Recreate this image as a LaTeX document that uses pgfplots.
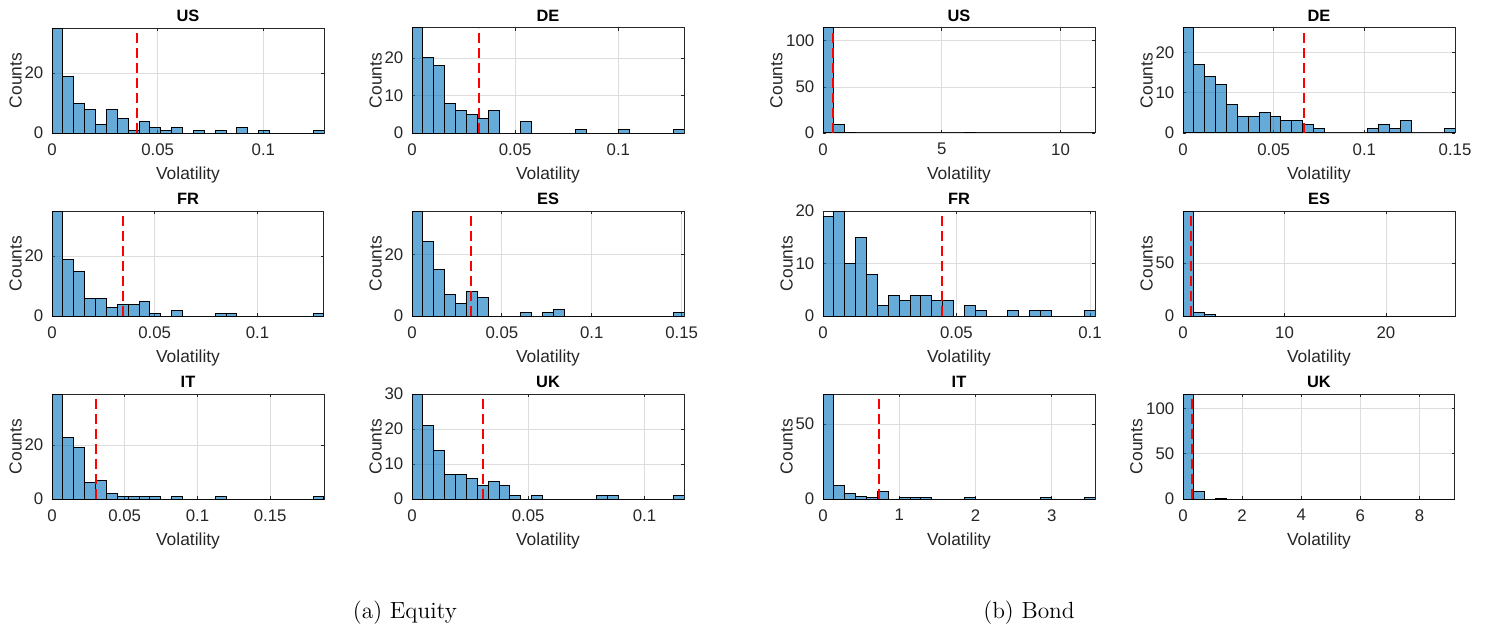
\documentclass[border=0pt]{standalone}
\usepackage{fontspec}
\usepackage{pgfplots}
\pgfplotsset{compat=1.18}
\newfontfamily\arial{Liberation Sans}
\definecolor{mblue}{rgb}{0,0.447,0.741}
\definecolor{axgray}{rgb}{0.15,0.15,0.15}
\definecolor{gridgray}{rgb}{0.87,0.87,0.87}
\newcommand{\lab}{\arial\fontsize{8.4}{10}\selectfont}
\newcommand{\xlab}{\arial\fontsize{8.7}{10}\selectfont}
\newcommand{\ttl}{\arial\bfseries\fontsize{8.2}{10}\selectfont}
\pgfplotsset{
  hist/.style={
    scale only axis, width=136pt, height=52.5pt, anchor=south west,
    xmin=0, ymin=0,
    axis line style={draw=axgray, line width=0.5pt},
    every tick/.style={axgray, line width=0.4pt},
    major tick length=1.4pt,
    tick align=inside,
    grid=major, major grid style={gridgray, line width=0.4pt},
    tick label style={font=\lab, text=axgray},
    /pgf/number format/assume math mode=true,
    scaled ticks=false,
    xticklabel style={/pgf/number format/fixed, /pgf/number format/precision=2, inner sep=0pt, anchor=north, yshift=-5pt},
    yticklabel style={inner sep=0pt, anchor=east, xshift=-4.2pt},
    xlabel=Volatility, ylabel=Counts,
    every axis x label/.style={at={(axis description cs:0.5,-0.318)}, anchor=north, inner sep=0pt, font=\xlab, text=axgray},
    every axis y label/.style={at={(axis description cs:-0.110,0.5)}, rotate=90, anchor=south, inner sep=0pt, font=\xlab, text=axgray},
    every axis title/.style={at={(axis description cs:0.5,1)}, anchor=south, inner sep=0pt, yshift=3.2pt, font=\ttl},
  },
  bars/.style={ybar interval, fill=mblue, fill opacity=0.6, draw=black, draw opacity=1, line width=0.5pt},
  vline/.style={red, line width=1pt, dash pattern=on 5pt off 2.5pt},
}
\begin{document}
\begin{tikzpicture}
\path[use as bounding box] (0,0) rectangle (744.5pt,314pt);
% ---------- Equity US
\begin{axis}[hist, at={(26pt,247.5pt)}, xmax=0.1287, ymax=35, xtick={0,0.05,0.1}, ytick={0,20}, title={US}]
\addplot[bars] coordinates {(0,35) (0.00515,19) (0.0103,10) (0.01544,8) (0.02059,3) (0.02574,8) (0.03089,5) (0.03604,1) (0.04118,4) (0.04633,2) (0.05148,1) (0.05663,2) (0.06178,0) (0.06692,1) (0.07207,0) (0.07722,1) (0.08237,0) (0.08752,2) (0.09266,0) (0.09781,1) (0.10296,0) (0.10811,0) (0.11326,0) (0.1184,0) (0.12355,1) (0.1287,0)};
\addplot[vline] coordinates {(0.0402,0) (0.0402,35)};
\end{axis}
% ---------- Equity DE
\begin{axis}[hist, at={(206pt,247.5pt)}, xmax=0.1318, ymax=28, xtick={0,0.05,0.1}, ytick={0,10,20}, title={DE}]
\addplot[bars] coordinates {(0,28) (0.00527,20) (0.01054,18) (0.01582,8) (0.02109,6) (0.02636,5) (0.03163,4) (0.0369,6) (0.04218,0) (0.04745,0) (0.05272,3) (0.05799,0) (0.06326,0) (0.06854,0) (0.07381,0) (0.07908,1) (0.08435,0) (0.08962,0) (0.0949,0) (0.10017,1) (0.10544,0) (0.11071,0) (0.11598,0) (0.12126,0) (0.12653,1) (0.1318,0)};
\addplot[vline] coordinates {(0.0327,0) (0.0327,28)};
\end{axis}
% ---------- Bond US
\begin{axis}[hist, at={(411.5pt,247.5pt)}, xmax=11.45, ymax=114, xtick={0,5,10}, ytick={0,50,100}, title={US},
  every axis y label/.append style={at={(axis description cs:-0.147,0.5)}}]
\addplot[bars] coordinates {(0,114) (0.458,9) (0.916,1) (1.374,0) (1.832,0) (2.29,0) (2.748,0) (3.206,0) (3.664,0) (4.122,0) (4.58,0) (5.038,0) (5.496,0) (5.954,1) (6.412,0) (6.87,0) (7.328,0) (7.786,0) (8.244,0) (8.702,0) (9.16,0) (9.618,0) (10.076,0) (10.534,0) (10.992,0) (11.45,0)};
\addplot[vline] coordinates {(0.42,0) (0.42,114)};
\end{axis}
% ---------- Bond DE
\begin{axis}[hist, at={(591.5pt,247.5pt)}, xmax=0.15, ymax=26, xtick={0,0.05,0.1,0.15}, ytick={0,10,20}, title={DE}]
\addplot[bars] coordinates {(0,26) (0.006,17) (0.012,14) (0.018,12) (0.024,7) (0.03,4) (0.036,4) (0.042,5) (0.048,4) (0.054,3) (0.06,3) (0.066,2) (0.072,1) (0.078,0) (0.084,0) (0.09,0) (0.096,0) (0.102,1) (0.108,2) (0.114,1) (0.12,3) (0.126,0) (0.132,0) (0.138,0) (0.144,1) (0.15,0)};
\addplot[vline] coordinates {(0.0668,0) (0.0668,26)};
\end{axis}
% ---------- Equity FR
\begin{axis}[hist, at={(26pt,156pt)}, xmax=0.1324, ymax=35, xtick={0,0.05,0.1}, ytick={0,20}, title={FR}]
\addplot[bars] coordinates {(0,35) (0.0053,19) (0.01059,15) (0.01589,6) (0.02118,6) (0.02648,3) (0.03178,4) (0.03707,4) (0.04237,5) (0.04766,1) (0.05296,0) (0.05826,2) (0.06355,0) (0.06885,0) (0.07414,0) (0.07944,1) (0.08474,1) (0.09003,0) (0.09533,0) (0.10062,0) (0.10592,0) (0.11122,0) (0.11651,0) (0.12181,0) (0.1271,1) (0.1324,0)};
\addplot[vline] coordinates {(0.0345,0) (0.0345,35)};
\end{axis}
% ---------- Equity ES
\begin{axis}[hist, at={(206pt,156pt)}, xmax=0.1513, ymax=34, xtick={0,0.05,0.1,0.15}, ytick={0,20}, title={ES}]
\addplot[bars] coordinates {(0,34) (0.00605,24) (0.0121,15) (0.01816,7) (0.02421,4) (0.03026,8) (0.03631,6) (0.04236,0) (0.04842,0) (0.05447,0) (0.06052,1) (0.06657,0) (0.07262,1) (0.07868,2) (0.08473,0) (0.09078,0) (0.09683,0) (0.10288,0) (0.10894,0) (0.11499,0) (0.12104,0) (0.12709,0) (0.13314,0) (0.1392,0) (0.14525,1) (0.1513,0)};
\addplot[vline] coordinates {(0.0326,0) (0.0326,34)};
\end{axis}
% ---------- Bond FR
\begin{axis}[hist, at={(411.5pt,156pt)}, xmax=0.1019, ymax=20, xtick={0,0.05,0.1}, ytick={0,10,20}, title={FR}]
\addplot[bars] coordinates {(0,19) (0.00408,20) (0.00815,10) (0.01223,15) (0.0163,8) (0.02038,2) (0.02446,4) (0.02853,3) (0.03261,4) (0.03668,4) (0.04076,3) (0.04484,3) (0.04891,0) (0.05299,2) (0.05706,1) (0.06114,0) (0.06522,0) (0.06929,1) (0.07337,0) (0.07744,1) (0.08152,1) (0.0856,0) (0.08967,0) (0.09375,0) (0.09782,1) (0.1019,0)};
\addplot[vline] coordinates {(0.0445,0) (0.0445,20)};
\end{axis}
% ---------- Bond ES
\begin{axis}[hist, at={(591.5pt,156pt)}, xmax=26.8, ymax=99, xtick={0,10,20}, ytick={0,50}, title={ES}]
\addplot[bars] coordinates {(0,99) (1.072,3) (2.144,1) (3.216,0) (4.288,0) (5.36,0) (6.432,0) (7.504,0) (8.576,0) (9.648,0) (10.72,0) (11.792,0) (12.864,0) (13.936,0) (15.008,0) (16.08,0) (17.152,0) (18.224,0) (19.296,0) (20.368,0) (21.44,0) (22.512,0) (23.584,0) (24.656,0) (25.728,0) (26.8,0)};
\addplot[vline] coordinates {(0.82,0) (0.82,99)};
\end{axis}
% ---------- Equity IT
\begin{axis}[hist, at={(26pt,64.5pt)}, xmax=0.187, ymax=39, xtick={0,0.05,0.1,0.15}, ytick={0,20}, title={IT}]
\addplot[bars] coordinates {(0,39) (0.00748,23) (0.01496,19) (0.02244,6) (0.02992,7) (0.0374,2) (0.04488,1) (0.05236,1) (0.05984,1) (0.06732,1) (0.0748,0) (0.08228,1) (0.08976,0) (0.09724,0) (0.10472,0) (0.1122,1) (0.11968,0) (0.12716,0) (0.13464,0) (0.14212,0) (0.1496,0) (0.15708,0) (0.16456,0) (0.17204,0) (0.17952,1) (0.187,0)};
\addplot[vline] coordinates {(0.030,0) (0.030,39)};
\end{axis}
% ---------- Equity UK
\begin{axis}[hist, at={(206pt,64.5pt)}, xmax=0.117, ymax=30, xtick={0,0.05,0.1}, ytick={0,10,20,30}, title={UK}]
\addplot[bars] coordinates {(0,30) (0.00468,21) (0.00936,14) (0.01404,7) (0.01872,7) (0.0234,6) (0.02808,4) (0.03276,5) (0.03744,4) (0.04212,1) (0.0468,0) (0.05148,1) (0.05616,0) (0.06084,0) (0.06552,0) (0.0702,0) (0.07488,0) (0.07956,1) (0.08424,1) (0.08892,0) (0.0936,0) (0.09828,0) (0.10296,0) (0.10764,0) (0.11232,1) (0.117,0)};
\addplot[vline] coordinates {(0.0304,0) (0.0304,30)};
\end{axis}
% ---------- Bond IT
\begin{axis}[hist, at={(411.5pt,64.5pt)}, xmax=3.566, ymax=70, xtick={0,1,2,3}, ytick={0,50}, title={IT}]
\addplot[bars] coordinates {(0,70) (0.1426,9) (0.2853,4) (0.4279,2) (0.5706,1) (0.7132,5) (0.8558,0) (0.9985,1) (1.1411,1) (1.2838,1) (1.4264,0) (1.569,0) (1.7117,0) (1.8543,1) (1.997,0) (2.1396,0) (2.2822,0) (2.4249,0) (2.5675,0) (2.7102,0) (2.8528,1) (2.9954,0) (3.1381,0) (3.2807,0) (3.4234,1) (3.566,0)};
\addplot[vline] coordinates {(0.737,0) (0.737,70)};
\end{axis}
% ---------- Bond UK
\begin{axis}[hist, at={(591.5pt,64.5pt)}, xmax=9.2, ymax=116, xtick={0,2,4,6,8}, ytick={0,50,100}, title={UK},
  every axis y label/.append style={at={(axis description cs:-0.147,0.5)}}]
\addplot[bars] coordinates {(0,116) (0.368,8) (0.736,0) (1.104,1) (1.472,0) (1.84,0) (2.208,0) (2.576,0) (2.944,0) (3.312,0) (3.68,0) (4.048,0) (4.416,0) (4.784,0) (5.152,0) (5.52,0) (5.888,0) (6.256,0) (6.624,0) (6.992,0) (7.36,0) (7.728,0) (8.096,0) (8.464,0) (8.832,0) (9.2,0)};
\addplot[vline] coordinates {(0.30,0) (0.30,116)};
\end{axis}
% ---------- captions
\node[font=\fontsize{11.7}{13}\selectfont, anchor=base] at (202.5pt,4.6pt) {(a) Equity};
\node[font=\fontsize{11.7}{13}\selectfont, anchor=base] at (514.5pt,4.6pt) {(b) Bond};
\end{tikzpicture}
\end{document}
